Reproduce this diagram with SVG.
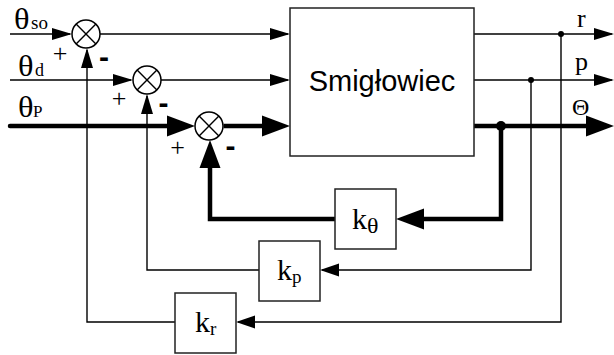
<svg xmlns="http://www.w3.org/2000/svg" width="614" height="355" viewBox="0 0 614 355">
<style>
.thin{fill:none;stroke:#000;stroke-width:1.4}
.thick{fill:none;stroke:#000;stroke-width:4.5;stroke-linejoin:miter}
.box{fill:#fff;stroke:#222;stroke-width:1.5}
.sum{fill:#fff;stroke:#000;stroke-width:1.5}
.sx{stroke:#000;stroke-width:1.4}
.serif{font-family:"Liberation Serif","Times New Roman",serif;fill:#000}
.sans{font-family:"Liberation Sans",Arial,sans-serif;fill:#000}
.plus{font-family:"Liberation Serif","Times New Roman",serif;font-size:26px;text-anchor:middle}
.minus{font-family:"Liberation Sans",Arial,sans-serif;font-size:30px;font-weight:bold;text-anchor:middle}
</style>
<defs>
<marker id="a" markerUnits="userSpaceOnUse" markerWidth="20" markerHeight="12" refX="18" refY="6" orient="auto" overflow="visible"><path d="M0,0 L20,6 L0,12 z" fill="#000"/></marker>
<marker id="s" markerUnits="userSpaceOnUse" markerWidth="19" markerHeight="13" refX="17" refY="6.5" orient="auto" overflow="visible"><path d="M0,0 L19,6.5 L0,13 z" fill="#000"/></marker>
<marker id="A" markerUnits="userSpaceOnUse" markerWidth="28" markerHeight="21" refX="10" refY="10.5" orient="auto" overflow="visible"><path d="M0,0 L28,10.5 L0,21 z" fill="#000"/></marker>
</defs>
<g id="connectors">
<path class="thin" d="M10,34 H70" marker-end="url(#a)"/>
<path class="thin" d="M100,34 H288" marker-end="url(#a)"/>
<path class="thin" d="M10,80 H131" marker-end="url(#a)"/>
<path class="thin" d="M161,80 H288" marker-end="url(#a)"/>
<path class="thick" d="M10,126 H177" stroke-linecap="round" marker-end="url(#A)"/>
<path class="thick" d="M223.5,126 H272" marker-end="url(#A)"/>
<path class="thin" d="M474,34 H612" marker-end="url(#a)"/>
<path class="thin" d="M474,80 H612" marker-end="url(#a)"/>
<path class="thick" d="M474,126 H596" marker-end="url(#A)"/>
<path class="thick" d="M501,126 V219 H414" marker-end="url(#A)"/>
<path class="thick" d="M335,219 H210 V158" marker-end="url(#A)"/>
<path class="thin" d="M531,80 V270 H322" marker-end="url(#s)"/>
<path class="thin" d="M259,270 H147 V96" marker-end="url(#a)"/>
<path class="thin" d="M561,34 V322 H238" marker-end="url(#s)"/>
<path class="thin" d="M175,322 H87 V50" marker-end="url(#a)"/>
<circle cx="561" cy="34" r="3" fill="#000"/>
<circle cx="531" cy="80" r="3" fill="#000"/>
<circle cx="501" cy="126" r="5" fill="#000"/>
</g>
<g id="sum1">
<circle class="sum" cx="86" cy="34" r="14"/>
<path class="sx" d="M76.1,24.1 L95.9,43.9 M95.9,24.1 L76.1,43.9"/>
<text class="plus" x="60" y="62">+</text>
<text class="minus" x="104" y="67">-</text>
</g>
<g id="sum2">
<circle class="sum" cx="147" cy="80" r="14"/>
<path class="sx" d="M137.1,70.1 L156.9,89.9 M156.9,70.1 L137.1,89.9"/>
<text class="plus" x="119" y="107">+</text>
<text class="minus" x="163.5" y="112.6">-</text>
</g>
<g id="sum3">
<circle class="sum" cx="209" cy="126" r="14"/>
<path class="sx" d="M199.1,116.1 L218.9,135.9 M218.9,116.1 L199.1,135.9"/>
<text class="plus" x="177.5" y="155.5">+</text>
<text class="minus" x="230.5" y="155.6">-</text>
</g>
<g id="inputs">
<text class="serif" font-size="30" transform="translate(14,29) scale(1.08,1)">θ</text>
<text class="serif" x="31" y="29" font-size="19">so</text>
<text class="serif" font-size="30" transform="translate(18,76) scale(1.08,1)">θ</text>
<text class="serif" x="35" y="76" font-size="18">d</text>
<text class="serif" font-size="30" transform="translate(18,117) scale(1.08,1)">θ</text>
<text class="serif" x="33" y="117" font-size="17">P</text>
</g>
<g id="smiglowiec">
<rect class="box" x="290" y="8" width="184" height="148"/>
<text class="sans" x="382" y="91" font-size="29" text-anchor="middle">Smigłowiec</text>
</g>
<g id="outputs">
<text class="serif" x="577" y="27" font-size="26">r</text>
<text class="serif" x="575" y="70" font-size="26">p</text>
<text class="serif" x="572" y="115" font-size="24">Θ</text>
</g>
<g id="k_theta">
<rect class="box" x="335" y="189" width="61" height="60"/>
<text class="serif" x="352" y="229" font-size="30">k</text>
<text class="serif" font-size="20" transform="translate(367,232.5) scale(1.2,1)">θ</text>
</g>
<g id="k_p">
<rect class="box" x="259" y="241" width="61" height="60"/>
<text class="serif" x="277" y="280"><tspan font-size="30">k</tspan><tspan font-size="19" dy="3">p</tspan></text>
</g>
<g id="k_r">
<rect class="box" x="175" y="293" width="61" height="60"/>
<text class="serif" x="195" y="332"><tspan font-size="30">k</tspan><tspan font-size="19" dy="3">r</tspan></text>
</g>
</svg>
